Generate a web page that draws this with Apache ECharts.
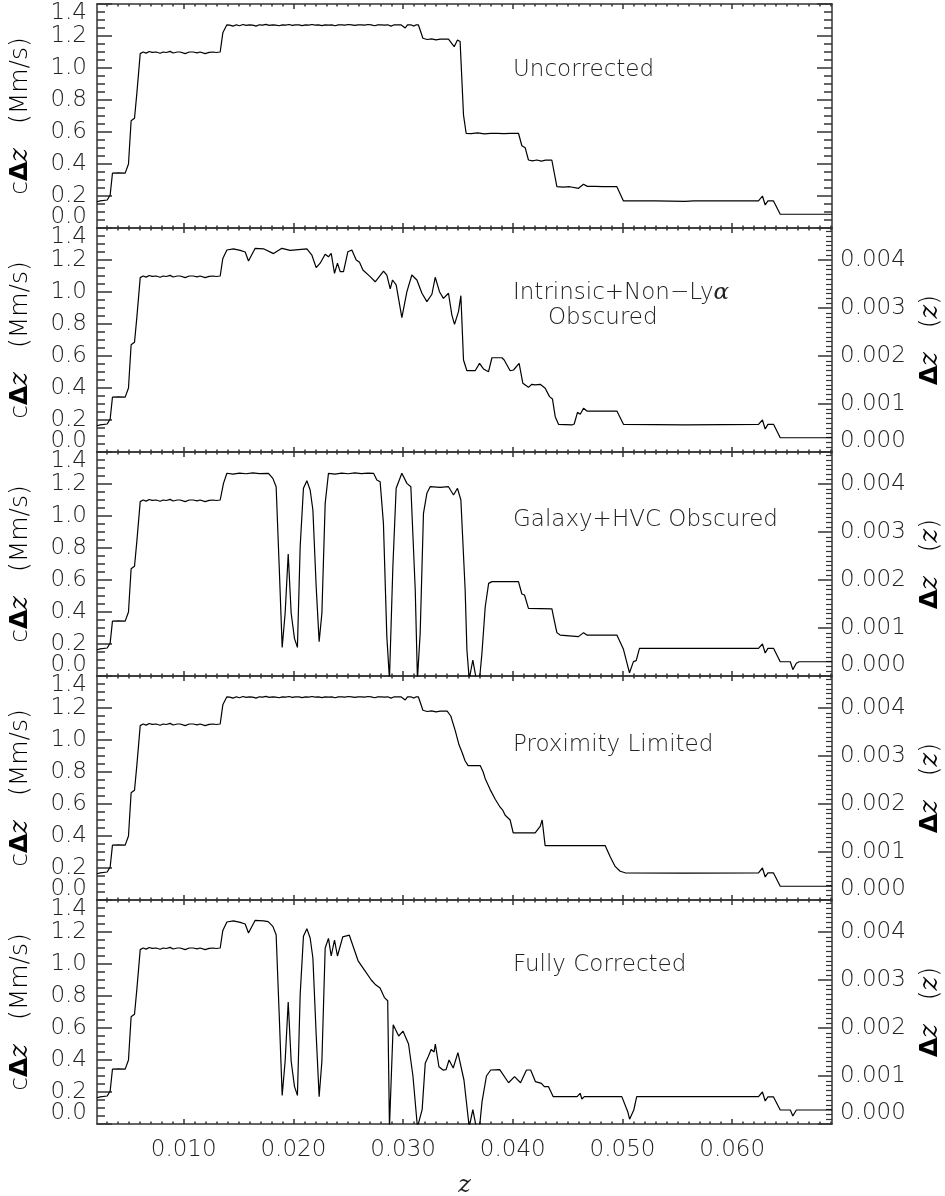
<!DOCTYPE html>
<html><head><meta charset="utf-8">
<script src="https://cdn.jsdelivr.net/npm/echarts@6/dist/echarts.min.js"></script>
<style>html,body{margin:0;padding:0;background:#fff}#c{width:945px;height:1196px}</style>
</head><body><div id="c"></div>
<script>
const Z_MIN = 0.0021, Z_MAX = 0.0691;
const C_MMS = 299.792458;
const panelTitles = ['Uncorrected', 'Intrinsic+Non\u2212Ly\u03b1|Obscured', 'Galaxy+HVC Obscured', 'Proximity Limited', 'Fully Corrected'];
const xTickLabels = [0.010, 0.020, 0.030, 0.040, 0.050, 0.060];
const leftTickLabels = [0.2, 0.4, 0.6, 0.8, 1.0, 1.2];
const leftMinLabel = [0.0];
const leftMaxLabel = [1.4];
const rightTickLabels = [0.001, 0.002, 0.003, 0.004];
const rightMinLabel = [0.000];

const riseSegment = [[0.00209,0.164],[0.00239,0.17],[0.00303,0.175],[0.0033,0.206],[0.00351,0.343],[0.00403,0.345],[0.00467,0.343],[0.00497,0.40],[0.00521,0.67],[0.00552,0.686],[0.00573,0.84],[0.00604,1.09],[0.00631,1.10],[0.00658,1.093],[0.00686,1.103],[0.00713,1.098],[0.00749,1.10],[0.00786,1.092],[0.00813,1.10],[0.00841,1.097],[0.00877,1.104],[0.00904,1.094],[0.00941,1.10],[0.00968,1.10],[0.01014,1.09],[0.0105,1.10],[0.01087,1.10],[0.01123,1.095],[0.0115,1.10],[0.01196,1.09],[0.01233,1.098],[0.01269,1.10],[0.01296,1.097],[0.01333,1.10]];

const plateauHigh = [[0.01357,1.22],[0.01394,1.27],[0.0142,1.268],[0.0145,1.262],[0.0148,1.27],[0.0151,1.264],[0.0154,1.272],[0.0157,1.266],[0.016,1.27],[0.0163,1.268],[0.0166,1.262],[0.0169,1.27],[0.0172,1.268],[0.0175,1.273],[0.0178,1.266],[0.0181,1.27],[0.0184,1.268],[0.0187,1.264],[0.019,1.27],[0.0193,1.268],[0.0196,1.272],[0.0199,1.266],[0.0202,1.27],[0.0205,1.27],[0.0208,1.265],[0.0211,1.27],[0.0214,1.268],[0.0217,1.272],[0.022,1.268],[0.0223,1.27],[0.0226,1.265],[0.0229,1.27],[0.0232,1.268],[0.0235,1.27],[0.0238,1.264],[0.0241,1.27],[0.0244,1.27],[0.0247,1.268],[0.025,1.272],[0.0253,1.27],[0.0256,1.266],[0.0259,1.27],[0.0262,1.27],[0.0265,1.268],[0.0268,1.272],[0.0271,1.27],[0.0274,1.264],[0.0277,1.27],[0.028,1.27],[0.0283,1.268],[0.0286,1.27],[0.0289,1.262],[0.0292,1.27],[0.0295,1.27],[0.0298,1.27],[0.0302,1.25],[0.0304,1.27],[0.0307,1.27],[0.031,1.262],[0.0312,1.27],[0.0314,1.269]];

const uncorrectedTail = [[0.03181,1.186],[0.0322,1.178],[0.0326,1.182],[0.033,1.176],[0.0334,1.18],[0.03414,1.18],[0.03466,1.133],[0.03496,1.175],[0.0352,1.165],[0.03551,0.706],[0.03575,0.592],[0.0362,0.59],[0.0368,0.594],[0.0374,0.588],[0.038,0.592],[0.0386,0.592],[0.0392,0.59],[0.0398,0.592],[0.04052,0.592],[0.04083,0.514],[0.04113,0.502],[0.04143,0.425],[0.0418,0.42],[0.0422,0.425],[0.0426,0.418],[0.043,0.424],[0.04356,0.425],[0.04402,0.258],[0.0446,0.256],[0.0452,0.258],[0.04599,0.248],[0.04645,0.273],[0.0468,0.26],[0.0475,0.26],[0.0482,0.258],[0.04949,0.258],[0.05009,0.169],[0.053,0.169],[0.0557,0.166],[0.0565,0.169],[0.06,0.169],[0.0624,0.169],[0.06276,0.20],[0.06301,0.144],[0.06326,0.169],[0.06377,0.169],[0.06438,0.086],[0.0691,0.086]];

const intrinsicTail = [[0.01357,1.21],[0.01394,1.2625],[0.01454,1.269],[0.01515,1.26],[0.01561,1.25],[0.01591,1.194],[0.01652,1.273],[0.01728,1.27],[0.01819,1.24],[0.01895,1.273],[0.01971,1.26],[0.02123,1.27],[0.02169,1.23],[0.02208,1.152],[0.02244,1.18],[0.0229,1.236],[0.0232,1.22],[0.02345,1.242],[0.02375,1.117],[0.02402,1.18],[0.02427,1.127],[0.02457,1.127],[0.02497,1.252],[0.02533,1.2625],[0.02573,1.20],[0.02603,1.186],[0.02634,1.1375],[0.027,1.096],[0.02746,1.064],[0.02822,1.131],[0.02852,1.106],[0.02883,1.019],[0.02904,1.075],[0.02937,1.044],[0.02989,0.84],[0.03035,1.002],[0.0308,1.106],[0.03126,1.075],[0.03172,0.992],[0.03217,0.94],[0.03263,0.986],[0.03293,1.092],[0.03332,1.002],[0.03368,0.96],[0.03414,0.992],[0.03445,0.856],[0.03469,0.798],[0.03505,0.877],[0.03527,0.977],[0.03551,0.575],[0.03582,0.508],[0.03657,0.508],[0.03697,0.554],[0.03733,0.519],[0.03779,0.502],[0.0381,0.589],[0.03901,0.589],[0.03922,0.575],[0.03976,0.508],[0.04007,0.5125],[0.04058,0.554],[0.04092,0.429],[0.04143,0.404],[0.04174,0.423],[0.04204,0.419],[0.0425,0.423],[0.04296,0.398],[0.04335,0.346],[0.04362,0.331],[0.04387,0.221],[0.04417,0.173],[0.04539,0.169],[0.0456,0.175],[0.0459,0.248],[0.04615,0.236],[0.04645,0.273],[0.04676,0.256],[0.04949,0.256],[0.05009,0.173],[0.0557,0.17],[0.0624,0.173],[0.06276,0.20],[0.06301,0.144],[0.06326,0.173],[0.06377,0.173],[0.06438,0.089],[0.0691,0.089]];

const galaxyTail = [[0.01363,1.204],[0.01394,1.267],[0.0145,1.262],[0.0151,1.268],[0.0157,1.264],[0.0163,1.27],[0.0169,1.265],[0.01773,1.267],[0.01813,1.235],[0.01843,1.183],[0.01871,0.683],[0.01898,0.179],[0.01925,0.392],[0.01953,0.7625],[0.0198,0.392],[0.0201,0.235],[0.02037,0.179],[0.02062,0.808],[0.02092,1.173],[0.02123,1.221],[0.02153,1.1625],[0.02178,1.0375],[0.02208,0.558],[0.02235,0.215],[0.0226,0.392],[0.0229,1.079],[0.0232,1.267],[0.0238,1.262],[0.0244,1.268],[0.025,1.264],[0.0256,1.27],[0.0262,1.265],[0.0268,1.268],[0.02731,1.267],[0.02761,1.225],[0.02791,1.214],[0.02821,0.954],[0.02852,0.246],[0.02876,-0.02],[0.02907,0.683],[0.02937,1.173],[0.02989,1.267],[0.03035,1.204],[0.03071,1.183],[0.0308,1.183],[0.03111,0.5375],[0.03131,-0.02],[0.03156,0.267],[0.03186,1.017],[0.03217,1.142],[0.03247,1.183],[0.03338,1.179],[0.03414,1.183],[0.0346,1.131],[0.03496,1.173],[0.03527,1.10],[0.03566,0.5375],[0.03582,0.1625],[0.03603,-0.02],[0.03636,0.10],[0.03667,-0.02],[0.03697,-0.02],[0.03719,0.142],[0.03749,0.433],[0.0378,0.579],[0.0381,0.59],[0.04052,0.59],[0.04083,0.5125],[0.04107,0.506],[0.04143,0.423],[0.04357,0.42],[0.04371,0.371],[0.04402,0.271],[0.04432,0.256],[0.04599,0.246],[0.04615,0.235],[0.04645,0.271],[0.04676,0.256],[0.04949,0.256],[0.05009,0.167],[0.05064,0.02],[0.051,0.09],[0.05125,0.096],[0.05155,0.173],[0.0624,0.173],[0.06276,0.20],[0.06301,0.144],[0.06326,0.173],[0.06377,0.173],[0.06438,0.089],[0.0653,0.089],[0.06553,0.04],[0.06585,0.08],[0.0661,0.089],[0.0691,0.089]];

const proximityTail = [[0.03181,1.186],[0.0322,1.178],[0.0326,1.182],[0.033,1.176],[0.0334,1.18],[0.03402,1.18],[0.03435,1.15],[0.03475,1.06],[0.0351,0.97],[0.03539,0.92],[0.03565,0.87],[0.03593,0.84],[0.0365,0.84],[0.03703,0.84],[0.0373,0.80],[0.03748,0.76],[0.03794,0.69],[0.0384,0.63],[0.03885,0.58],[0.0391,0.56],[0.03931,0.53],[0.03976,0.50],[0.04004,0.42],[0.0412,0.42],[0.04204,0.42],[0.0425,0.46],[0.04268,0.50],[0.04295,0.34],[0.0455,0.34],[0.04842,0.34],[0.04888,0.27],[0.04933,0.21],[0.04979,0.18],[0.05024,0.17],[0.0557,0.168],[0.0624,0.17],[0.06276,0.20],[0.06301,0.144],[0.06326,0.169],[0.06377,0.169],[0.06438,0.086],[0.0691,0.086]];

const fullTail = [[0.01357,1.21],[0.01394,1.2625],[0.01454,1.269],[0.01515,1.26],[0.01561,1.25],[0.01591,1.194],[0.01652,1.273],[0.01728,1.27],[0.0177,1.265],[0.01813,1.235],[0.01843,1.183],[0.01871,0.683],[0.01898,0.179],[0.01925,0.392],[0.01953,0.7625],[0.0198,0.392],[0.0201,0.235],[0.02037,0.179],[0.02062,0.808],[0.02092,1.173],[0.02123,1.221],[0.02153,1.1625],[0.02178,1.0375],[0.02208,0.558],[0.02235,0.17],[0.0226,0.392],[0.0229,1.1],[0.0232,1.16],[0.02345,1.05],[0.02375,1.15],[0.02402,1.05],[0.0245,1.17],[0.0251,1.18],[0.0255,1.1],[0.0259,1.02],[0.0265,0.96],[0.0271,0.9],[0.0275,0.87],[0.0279,0.85],[0.0283,0.79],[0.0286,0.77],[0.02876,-0.02],[0.0291,0.62],[0.0296,0.55],[0.03,0.58],[0.0305,0.5],[0.0309,0.3],[0.03131,-0.02],[0.03174,0.09],[0.03202,0.379],[0.03229,0.42],[0.03256,0.466],[0.03283,0.45],[0.03294,0.5],[0.03327,0.358],[0.03365,0.337],[0.03392,0.34],[0.03419,0.4],[0.03457,0.35],[0.035,0.446],[0.03555,0.275],[0.03603,-0.02],[0.03636,0.09],[0.03667,-0.02],[0.03697,-0.02],[0.0372,0.14],[0.0376,0.3],[0.03799,0.3375],[0.03881,0.34],[0.03962,0.258],[0.04016,0.296],[0.04071,0.258],[0.04125,0.3375],[0.04163,0.3375],[0.04206,0.265],[0.04261,0.254],[0.04288,0.233],[0.04326,0.233],[0.04369,0.171],[0.04587,0.171],[0.04614,0.192],[0.0463,0.156],[0.04652,0.171],[0.04994,0.171],[0.05048,0.077],[0.05065,0.03],[0.05103,0.0875],[0.0513,0.171],[0.0624,0.171],[0.06276,0.20],[0.06301,0.144],[0.06326,0.169],[0.06377,0.169],[0.06438,0.0875],[0.0653,0.0875],[0.06553,0.05],[0.06585,0.0875],[0.0691,0.0875]];

const seriesData = [
  riseSegment.concat(plateauHigh, uncorrectedTail),
  riseSegment.concat(intrinsicTail),
  riseSegment.concat(galaxyTail),
  riseSegment.concat(plateauHigh, proximityTail),
  riseSegment.concat(fullTail)
];

const xMinorTicks = [];
for (let k = 3; k <= 69; k++) if (k % 10 !== 0) xMinorTicks.push(k / 1000);
const rightMinorTicks = [];
for (let k = 1; k <= 46; k++) if (k % 10 !== 0) rightMinorTicks.push(k / 10000);

const FONT = 'DejaVu Sans';
const FW = 200;
const TXT = '#222';
const AX = '#333';
const L = 97, RGT = 945 - 832, TOP0 = 4, H = 224;
const labelFont = {fontFamily: FONT, fontWeight: FW, fontSize: 23, color: TXT};

const grids = [], xAxes = [], yAxes = [], series = [], graphics = [];
for (let i = 0; i < 5; i++) {
  const top = TOP0 + i * H;
  grids.push({left: L, right: RGT, top: top, height: H, containLabel: false, outerBoundsMode: 'none'});
  const lineStyle = {color: AX, width: 1.5};
  const base = {type: 'value', gridIndex: i, min: Z_MIN, max: Z_MAX, splitLine: {show: false}};
  const xIdx = xAxes.length;
  xAxes.push(Object.assign({}, base, {position: 'bottom', axisLine: {show: true, onZero: false, lineStyle},
    axisTick: {show: true, inside: true, length: 5, customValues: xTickLabels, lineStyle},
    axisLabel: Object.assign({show: i === 4, customValues: xTickLabels, formatter: v => v.toFixed(3), margin: 15}, labelFont),
    name: i === 4 ? 'z' : '', nameLocation: 'middle', nameGap: 50,
    nameTextStyle: {fontFamily: 'DejaVu Serif', fontStyle: 'italic', fontSize: 24, color: TXT}}));
  xAxes.push(Object.assign({}, base, {position: 'bottom', axisLine: {show: false, onZero: false},
    axisTick: {show: true, inside: true, length: 2.5, customValues: xMinorTicks, lineStyle}, axisLabel: {show: false}}));
  xAxes.push(Object.assign({}, base, {position: 'top', axisLine: {show: true, onZero: false, lineStyle},
    axisTick: {show: true, inside: true, length: 5, customValues: xTickLabels, lineStyle}, axisLabel: {show: false}}));
  xAxes.push(Object.assign({}, base, {position: 'top', axisLine: {show: false, onZero: false},
    axisTick: {show: true, inside: true, length: 2.5, customValues: xMinorTicks, lineStyle}, axisLabel: {show: false}}));

  const yIdx = yAxes.length;
  const yBase = {type: 'value', gridIndex: i, min: 0, max: 1.4, splitLine: {show: false}};
  yAxes.push(Object.assign({}, yBase, {interval: 0.2, position: 'left',
    axisLine: {show: true, onZero: false, lineStyle},
    axisTick: {show: true, inside: true, length: 15, lineStyle},
    minorTick: {show: true, splitNumber: 4, length: 8, lineStyle},
    axisLabel: Object.assign({show: true, customValues: leftTickLabels, margin: 10, formatter: v => v.toFixed(1)}, labelFont)}));
  yAxes.push(Object.assign({}, yBase, {position: 'left', axisLine: {show: false, onZero: false}, axisTick: {show: false},
    axisLabel: Object.assign({show: true, customValues: leftMinLabel, margin: 10, verticalAlign: 'bottom', lineHeight: 22, formatter: v => v.toFixed(1)}, labelFont)}));
  yAxes.push(Object.assign({}, yBase, {position: 'left', axisLine: {show: false, onZero: false}, axisTick: {show: false},
    axisLabel: Object.assign({show: true, customValues: leftMaxLabel, margin: 10, verticalAlign: 'top', lineHeight: 19, formatter: v => v.toFixed(1)}, labelFont)}));
  if (i === 0) {
    yAxes.push(Object.assign({}, yBase, {interval: 0.2, position: 'right',
      axisLine: {show: true, onZero: false, lineStyle},
      axisTick: {show: true, inside: true, length: 15, lineStyle},
      minorTick: {show: true, splitNumber: 4, length: 8, lineStyle}, axisLabel: {show: false}}));
  } else {
    const rBase = {type: 'value', gridIndex: i, min: 0, max: 1.4 / C_MMS, position: 'right', splitLine: {show: false}};
    yAxes.push(Object.assign({}, rBase, {axisLine: {show: true, onZero: false, lineStyle},
      axisTick: {show: true, inside: true, length: 14, customValues: [0].concat(rightTickLabels), lineStyle},
      axisLabel: Object.assign({show: true, customValues: rightTickLabels, margin: 8, formatter: v => v.toFixed(3)}, labelFont)}));
    yAxes.push(Object.assign({}, rBase, {axisLine: {show: false, onZero: false}, axisTick: {show: false},
      axisLabel: Object.assign({show: true, customValues: rightMinLabel, margin: 8, verticalAlign: 'bottom', lineHeight: 22, formatter: v => v.toFixed(3)}, labelFont)}));
    yAxes.push(Object.assign({}, rBase, {axisLine: {show: false, onZero: false},
      axisTick: {show: true, inside: true, length: 6, customValues: rightMinorTicks, lineStyle: {color: AX, width: 1.2}}, axisLabel: {show: false}}));
  }
  series.push({type: 'line', xAxisIndex: xIdx, yAxisIndex: yIdx, data: seriesData[i], showSymbol: false,
    symbol: 'none', lineStyle: {color: '#000', width: 1.2}, clip: true, animation: false});

  const cy = top + H / 2;
  graphics.push({type: 'text', x: 20, y: cy, rotation: Math.PI / 2,
    style: {text: '{r|c}{b|\u0394}{i|z}{r|   (Mm/s)}', align: 'center', verticalAlign: 'middle',
      rich: {r: {fontFamily: FONT, fontWeight: FW, fontSize: 25, color: TXT},
             b: {fontFamily: FONT, fontSize: 25, fontWeight: 'bold', color: TXT},
             i: {fontFamily: 'DejaVu Serif', fontStyle: 'italic', fontSize: 26, color: TXT}}}});
  if (i > 0) {
    graphics.push({type: 'text', x: 930, y: cy, rotation: Math.PI / 2,
      style: {text: '{b|\u0394}{i|z}{r|   (}{i|z}{r|)}', align: 'center', verticalAlign: 'middle',
        rich: {r: {fontFamily: FONT, fontWeight: FW, fontSize: 25, color: TXT},
               b: {fontFamily: FONT, fontSize: 25, fontWeight: 'bold', color: TXT},
               i: {fontFamily: 'DejaVu Serif', fontStyle: 'italic', fontSize: 26, color: TXT}}}});
  }
}
const titleY = [70, 293, 520, 745, 965];
panelTitles.forEach((t, i) => {
  const parts = t.split('|');
  if (parts.length === 1) {
    graphics.push({type: 'text', x: 513, y: titleY[i], style: {text: t, fontFamily: FONT, fontWeight: FW, fontSize: 23, fill: TXT, verticalAlign: 'middle'}});
  } else {
    graphics.push({type: 'text', x: 513, y: titleY[i], style: {text: 'Intrinsic+Non\u2212Ly{a|\u03b1}', verticalAlign: 'middle',
      fontFamily: FONT, fontWeight: FW, fontSize: 23, fill: TXT, rich: {a: {fontFamily: 'DejaVu Serif', fontStyle: 'italic', fontSize: 23, color: TXT}}}});
    graphics.push({type: 'text', x: 548, y: titleY[i] + 25, style: {text: parts[1], fontFamily: FONT, fontWeight: FW, fontSize: 23, fill: TXT, verticalAlign: 'middle'}});
  }
});

const chart = echarts.init(document.getElementById('c'), null, {renderer: 'canvas'});
chart.setOption({animation: false, backgroundColor: '#fff', grid: grids, xAxis: xAxes, yAxis: yAxes, series, graphic: graphics});
</script></body></html>
